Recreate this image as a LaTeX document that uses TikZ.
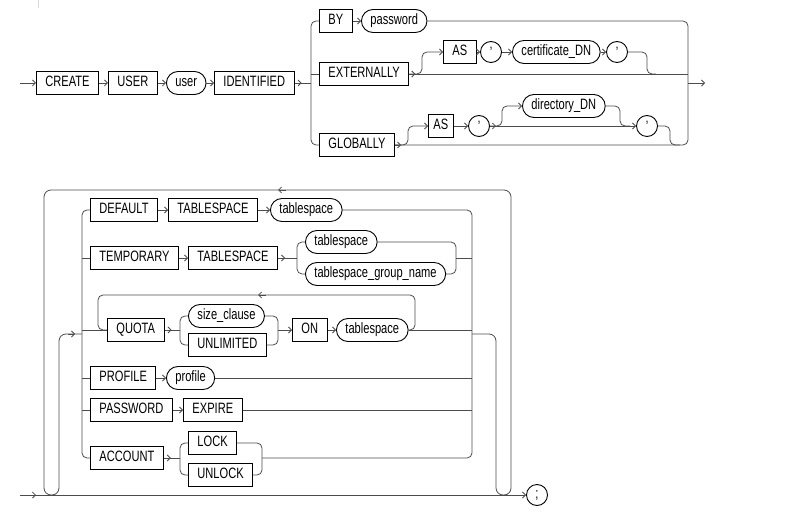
\documentclass[tikz,border=0pt]{standalone}
\usepackage{fontspec}
\setmainfont[FakeStretch=0.74]{Liberation Sans}
\usetikzlibrary{arrows.meta}
\tikzstyle{kw}=[draw=black,line width=0.9pt,rectangle,minimum height=23pt,inner xsep=9pt,inner ysep=0pt,text height=10.5pt,text depth=3pt,font=\fontsize{15}{17}\selectfont,anchor=west]
\tikzstyle{var}=[kw,rounded corners=11.5pt]
\tikzstyle{lit}=[draw=black,line width=0.9pt,circle,minimum size=21pt,inner sep=0pt,font=\fontsize{15}{17}\selectfont]
\tikzstyle{rail}=[draw=black!70,line width=0.8pt,rounded corners=5pt]
\tikzstyle{arr}=[draw=black!70,line width=0.8pt,-{Straight Barb[length=3pt,width=6pt]}]

\begin{document}
\begin{tikzpicture}[x=1pt,y=-1pt]
\useasboundingbox (0,0) rectangle (794,518);
\draw[black!15] (38,0) -- (38,8);
\coordinate (s1) at (20,83);
\coordinate (r1) at (311,83);
\coordinate (r2) at (688,83);
\coordinate (e1) at (705,83);
\node[kw] (create) at (36,83) {CREATE};
\node[kw] (user) at (108,83) {USER};
\node[var] (uname) at (166,83) {user};
\node[kw] (ident) at (214,83) {IDENTIFIED};
\node[kw] (by) at (319,21) {BY};
\node[var] (pwd) at (361,21) {password};
\node[kw] (ext) at (319,74) {EXTERNALLY};
\node[kw] (as1) at (443,52) {AS};
\node[lit] (q1) at (491,52) {'};
\node[var] (cert) at (512,52) {certificate\_DN};
\node[lit] (q2) at (617,52) {'};
\node[kw] (glob) at (319,145) {GLOBALLY};
\node[kw,inner xsep=5pt] (as2) at (428,126) {AS};
\node[lit] (q3) at (479,126) {'};
\node[var] (dirdn) at (522,106) {directory\_DN};
\node[lit] (q4) at (647,126) {'};
\coordinate (x1) at (422,74);
\coordinate (x2) at (647,74);
\coordinate (x3) at (656,74);
\coordinate (g1) at (408,145);
\coordinate (g2) at (502,126);
\coordinate (g3) at (620,126);
\coordinate (g4) at (630,126);
\coordinate (g5) at (670,145);
\coordinate (g6) at (680,145);
\draw[arr] (s1) -- (create.west);
\draw[arr] (create) -- (user);
\draw[arr] (user) -- (uname);
\draw[arr] (uname) -- (ident);
\draw[rail] (ident.east) -- (r1);
\draw[arr] (ident.east) -- ++(7,0);
\draw[rail] (by.west) -| (r1) |- (glob.west);
\draw[rail] (r1 |- ext.west) -- (ext.west);
\draw[arr] (by) -- (pwd);
\draw[rail] (pwd.east) -| (r2) |- (glob.east);
\draw[rail] (ext.east) -- (r2 |- ext.east);
\draw[arr] (r2) -- (e1);
\draw[arr] (ext.east) -- ++(6,0);
\draw[rail,arr] (ext.east) -- (x1) |- (as1.west);
\draw[arr] (as1) -- (q1);
\draw[arr] (q1) -- (cert);
\draw[arr] (cert) -- (q2);
\draw[rail] (q2.east) -| (x2) -- (x3);
\draw[arr] (glob.east) -- ++(6,0);
\draw[rail,arr] (glob.east) -- (g1) |- (as2.west);
\draw[arr] (as2) -- (q3);
\draw[arr] (q3.east) -- ++(6,0);
\draw[arr] (q3.east) -- (q4.west);
\draw[rail,arr] (q3.east) -- (g2) |- (dirdn.west);
\draw[rail] (dirdn.east) -| (g3) -- (g4);
\draw[rail] (q4.east) -| (g5) -- (g6);

\coordinate (s2) at (20,495);
\coordinate (c1) at (82,334);
\coordinate (c2) at (472,334);
\coordinate (lt) at (278,190);
\node[lit] (semi) at (537,495) {;};
\node[kw] (dflt) at (90,210) {DEFAULT};
\node[kw] (ts0) at (168,210) {TABLESPACE};
\node[var] (ts1) at (270,210) {tablespace};
\node[kw] (temp) at (90,258) {TEMPORARY};
\node[kw] (tts) at (188,258) {TABLESPACE};
\node[var] (ts2) at (305,242) {tablespace};
\node[var] (tsg) at (305,274) {tablespace\_group\_name};
\node[kw] (quota) at (107,330) {QUOTA};
\node[var] (sizec) at (188,316) {size\_clause};
\node[kw] (unlim) at (188,345) {UNLIMITED};
\node[kw] (on) at (292,330) {ON};
\node[var] (ts3) at (336,330) {tablespace};
\node[kw] (prof) at (90,378) {PROFILE};
\node[var] (pname) at (166,378) {profile};
\node[kw] (pass) at (90,410) {PASSWORD};
\node[kw] (expire) at (183,410) {EXPIRE};
\node[kw] (acct) at (90,458) {ACCOUNT};
\node[kw] (lock) at (188,443) {LOCK};
\node[kw] (unlock) at (188,475) {UNLOCK};
\coordinate (tb) at (297,258);
\coordinate (tj) at (456,258);
\coordinate (qb) at (180,330);
\coordinate (qj) at (278,330);
\coordinate (ql) at (98,295);
\coordinate (qr) at (415,295);
\coordinate (qa) at (258,295);
\coordinate (ab) at (180,458);
\coordinate (ajoin) at (262,458);
\draw[rail,arr] (s2) -- (semi);
\draw[arr] (s2) -- ++(16,0);
\draw[rail,rounded corners=7pt] (c1) -- (59,334) -- (59,495) -- (44,495) -- (44,190) -- (511,190) -- (511,495) -- (496,495) -- (496,334) -- (c2);
\draw[arr] ([xshift=-14pt]c1) -- ([xshift=-7pt]c1);
\draw[arr] ([xshift=8pt]lt) -- (lt);
\draw[rail] (dflt.west) -| (c1) |- (acct.west);
\draw[rail] (c1 |- temp.west) -- (temp.west);
\draw[rail] (c1 |- quota.west) -- (quota.west);
\draw[rail] (c1 |- prof.west) -- (prof.west);
\draw[rail] (c1 |- pass.west) -- (pass.west);
\draw[rail] (ts1.east) -| (c2) |- (ajoin);
\draw[arr] (dflt) -- (ts0);
\draw[arr] (ts0) -- (ts1);
\draw[arr] (temp) -- (tts);
\draw[rail] (tts.east) -- (tb);
\draw[arr] (tts.east) -- ++(7,0);
\draw[rail] (ts2.west) -| (tb) |- (tsg.west);
\draw[rail] (ts2.east) -| (tj) |- (tsg.east);
\draw[rail] (tj) -- (c2 |- tj);
\draw[rail] (quota.east) -- (qb);
\draw[arr] (quota.east) -- ++(7,0);
\draw[rail] (sizec.west) -| (qb) |- (unlim.west);
\draw[rail] (sizec.east) -| (qj) |- (unlim.east);
\draw[arr] (qj) -- (on);
\draw[arr] (on) -- (ts3);
\draw[rail] (ts3.east) -- (c2 |- ts3.east);
\draw[rail] (ts3.east) -| (qr) -- (ql) |- (quota.west);
\draw[arr] ([xshift=8pt]qa) -- (qa);
\draw[arr] (prof) -- (pname);
\draw[rail] (pname.east) -- (c2 |- pname.east);
\draw[arr] (pass) -- (expire);
\draw[rail] (expire.east) -- (c2 |- expire.east);
\draw[rail] (acct.east) -- (ab);
\draw[arr] (acct.east) -- ++(7,0);
\draw[rail] (lock.west) -| (ab) |- (unlock.west);
\draw[rail] (lock.east) -| (ajoin) |- (unlock.east);
\end{tikzpicture}
\end{document}
